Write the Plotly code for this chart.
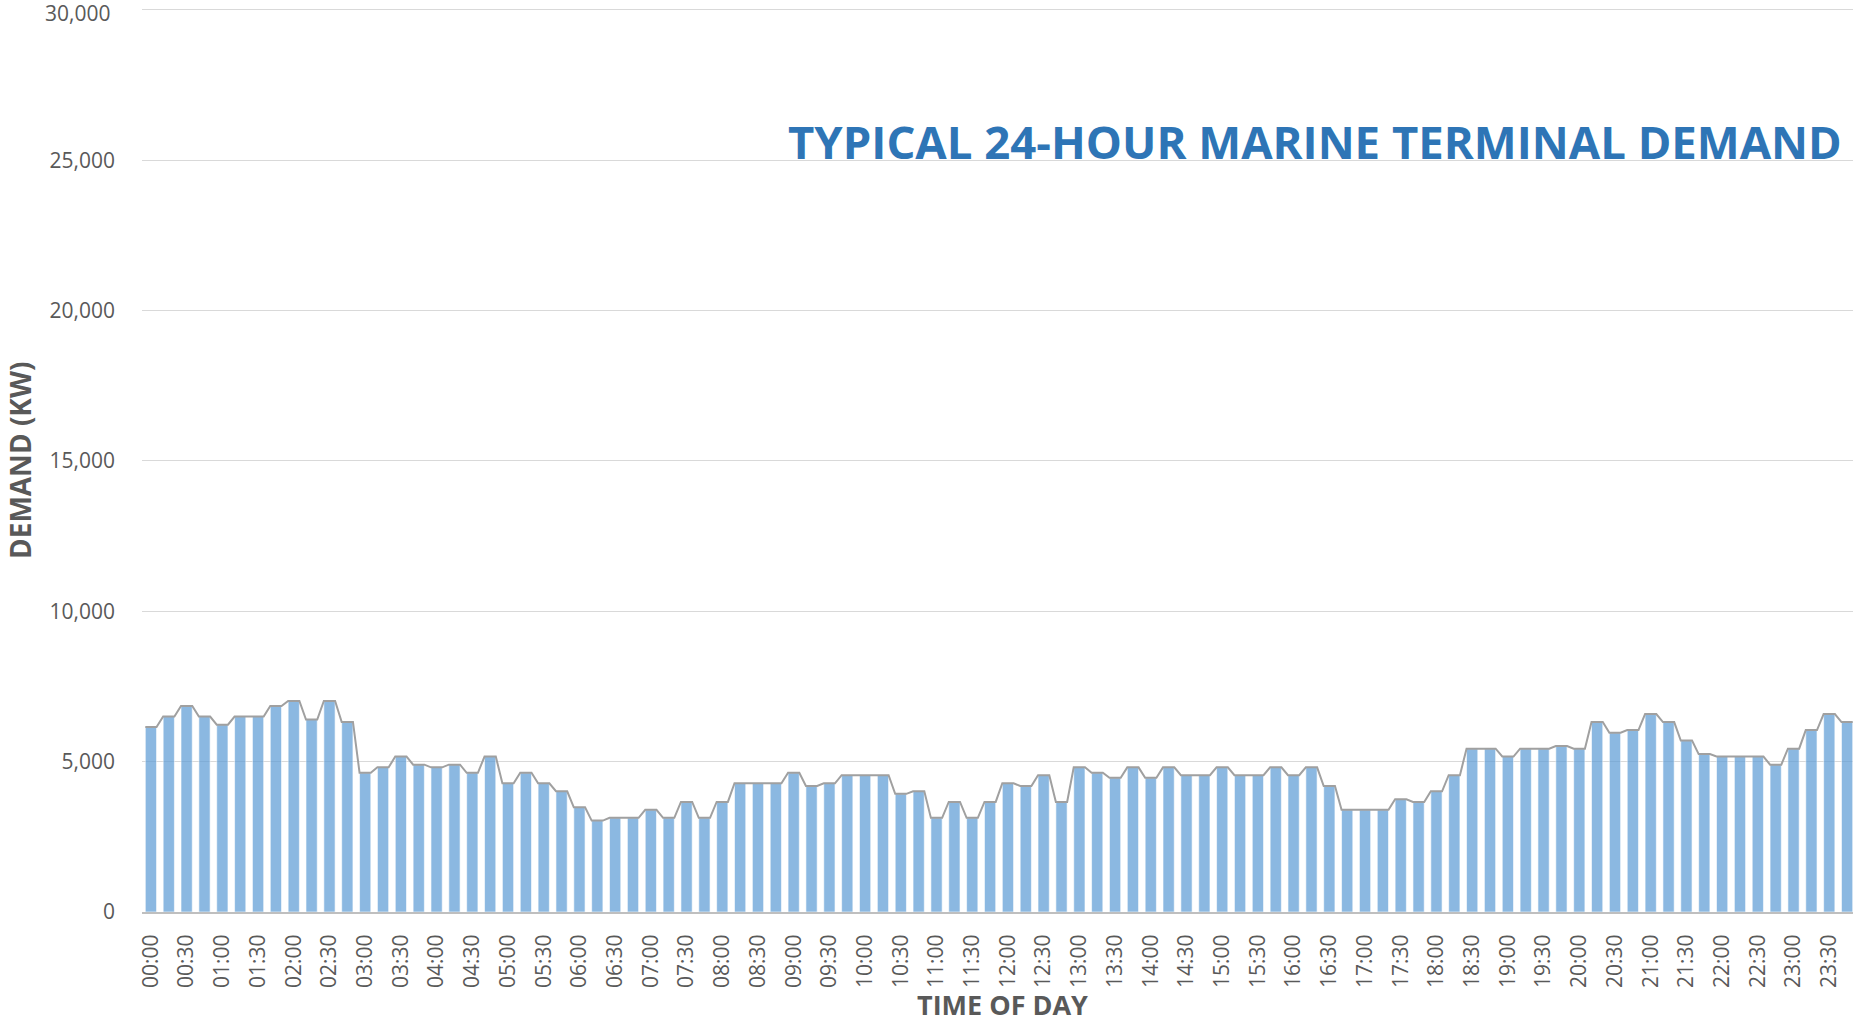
import plotly.graph_objects as go

# Quarter-hour intervals across one day
INTERVALS = [
    "00:00", "00:15", "00:30", "00:45", "01:00", "01:15", "01:30", "01:45",
    "02:00", "02:15", "02:30", "02:45", "03:00", "03:15", "03:30", "03:45",
    "04:00", "04:15", "04:30", "04:45", "05:00", "05:15", "05:30", "05:45",
    "06:00", "06:15", "06:30", "06:45", "07:00", "07:15", "07:30", "07:45",
    "08:00", "08:15", "08:30", "08:45", "09:00", "09:15", "09:30", "09:45",
    "10:00", "10:15", "10:30", "10:45", "11:00", "11:15", "11:30", "11:45",
    "12:00", "12:15", "12:30", "12:45", "13:00", "13:15", "13:30", "13:45",
    "14:00", "14:15", "14:30", "14:45", "15:00", "15:15", "15:30", "15:45",
    "16:00", "16:15", "16:30", "16:45", "17:00", "17:15", "17:30", "17:45",
    "18:00", "18:15", "18:30", "18:45", "19:00", "19:15", "19:30", "19:45",
    "20:00", "20:15", "20:30", "20:45", "21:00", "21:15", "21:30", "21:45",
    "22:00", "22:15", "22:30", "22:45", "23:00", "23:15", "23:30", "23:45",
]

# Demand in kW for each interval
DEMAND_KW = [
    6150, 6500, 6850, 6500, 6230, 6500, 6500, 6850,
    7020, 6400, 7020, 6320, 4630, 4810, 5170, 4900,
    4810, 4900, 4630, 5170, 4280, 4630, 4280, 4015,
    3480, 3040, 3130, 3130, 3400, 3130, 3660, 3130,
    3660, 4280, 4280, 4280, 4630, 4190, 4280, 4550,
    4550, 4550, 3930, 4015, 3130, 3660, 3130, 3660,
    4280, 4190, 4550, 3660, 4810, 4630, 4460, 4810,
    4460, 4810, 4550, 4550, 4810, 4550, 4550, 4810,
    4550, 4810, 4190, 3400, 3400, 3400, 3750, 3660,
    4015, 4550, 5430, 5430, 5170, 5430, 5430, 5520,
    5430, 6315, 5960, 6050, 6580, 6315, 5700, 5250,
    5170, 5170, 5170, 4900, 5430, 6050, 6580, 6315,
]

# Half-hour tick labels on the time axis
TICK_LABELS = [
    "00:00", "00:30", "01:00", "01:30", "02:00", "02:30", "03:00", "03:30",
    "04:00", "04:30", "05:00", "05:30", "06:00", "06:30", "07:00", "07:30",
    "08:00", "08:30", "09:00", "09:30", "10:00", "10:30", "11:00", "11:30",
    "12:00", "12:30", "13:00", "13:30", "14:00", "14:30", "15:00", "15:30",
    "16:00", "16:30", "17:00", "17:30", "18:00", "18:30", "19:00", "19:30",
    "20:00", "20:30", "21:00", "21:30", "22:00", "22:30", "23:00", "23:30",
]

# Demand axis ticks
Y_TICKS = [0, 5000, 10000, 15000, 20000, 25000, 30000]

BAR_WIDTH = 0.63
GREY = "#595959"
FONT = "Open Sans"

x_pos = list(range(len(DEMAND_KW)))
tick_pos = [INTERVALS.index(t) for t in TICK_LABELS]

# Outline that runs flat across each bar top and slopes through the gaps
line_x, line_y = [], []
for i, v in zip(x_pos, DEMAND_KW):
    line_x += [i - BAR_WIDTH / 2, i + BAR_WIDTH / 2]
    line_y += [v, v]

# The topmost label sits at the very top edge, so it is placed as an
# annotation; the axis keeps its gridline.
y_top = Y_TICKS[-1]
y_text = [f"{v:,}" for v in Y_TICKS[:-1]] + [""]

fig = go.Figure()
fig.add_trace(go.Bar(
    x=x_pos,
    y=DEMAND_KW,
    width=BAR_WIDTH,
    marker=dict(color="#5B9BD5", opacity=0.7,
                line=dict(color="rgba(255,255,255,0.6)", width=1)),
    customdata=INTERVALS,
    hovertemplate="%{customdata}: %{y:,} kW<extra></extra>",
))
fig.add_trace(go.Scatter(
    x=line_x,
    y=line_y,
    mode="lines",
    line=dict(color="#A0A0A0", width=2),
    hoverinfo="skip",
))

fig.update_layout(
    width=1853,
    height=1024,
    margin=dict(l=142, r=0, t=8, b=112),
    paper_bgcolor="white",
    plot_bgcolor="white",
    showlegend=False,
    font=dict(family=FONT, color=GREY),
    xaxis=dict(
        range=[-0.5, 95.33],
        tickmode="array",
        tickvals=tick_pos,
        ticktext=TICK_LABELS,
        tickangle=-90,
        tickfont=dict(family=FONT, size=21, color=GREY),
        ticks="",
        ticklabelstandoff=12,
        showgrid=False,
        zeroline=False,
        showline=True,
        linecolor="#BFBFBF",
        linewidth=2,
    ),
    yaxis=dict(
        range=[0, 30060],
        tickmode="array",
        tickvals=Y_TICKS,
        ticktext=y_text,
        tickfont=dict(family=FONT, size=21, color=GREY),
        ticks="",
        ticklabelstandoff=26,
        showgrid=True,
        gridcolor="#D9D9D9",
        gridwidth=1,
        zeroline=False,
        showline=False,
    ),
    annotations=[
        dict(
            text=f"{y_top:,}",
            xref="paper", yref="y",
            x=-0.0175, y=y_top,
            xanchor="right", yanchor="middle",
            yshift=-3,
            showarrow=False,
            font=dict(family=FONT, size=21, color=GREY),
        ),
        dict(
            text="<b>TYPICAL 24-HOUR MARINE TERMINAL DEMAND</b>",
            xref="paper", yref="paper",
            x=0.9947, y=0.853,
            xanchor="right", yanchor="middle",
            showarrow=False,
            font=dict(family=FONT, size=45.5, color="#2E75B6"),
        ),
        dict(
            text="<b>DEMAND (KW)</b>",
            xref="paper", yref="paper",
            x=-0.0713, y=0.5,
            xanchor="center", yanchor="middle",
            textangle=-90,
            showarrow=False,
            font=dict(family=FONT, size=28, color=GREY),
        ),
        dict(
            text="<b>TIME OF DAY</b>",
            xref="paper", yref="paper",
            x=0.503, y=-0.102,
            xanchor="center", yanchor="middle",
            showarrow=False,
            font=dict(family=FONT, size=27, color=GREY),
        ),
    ],
)

fig.write_html("out.html")
